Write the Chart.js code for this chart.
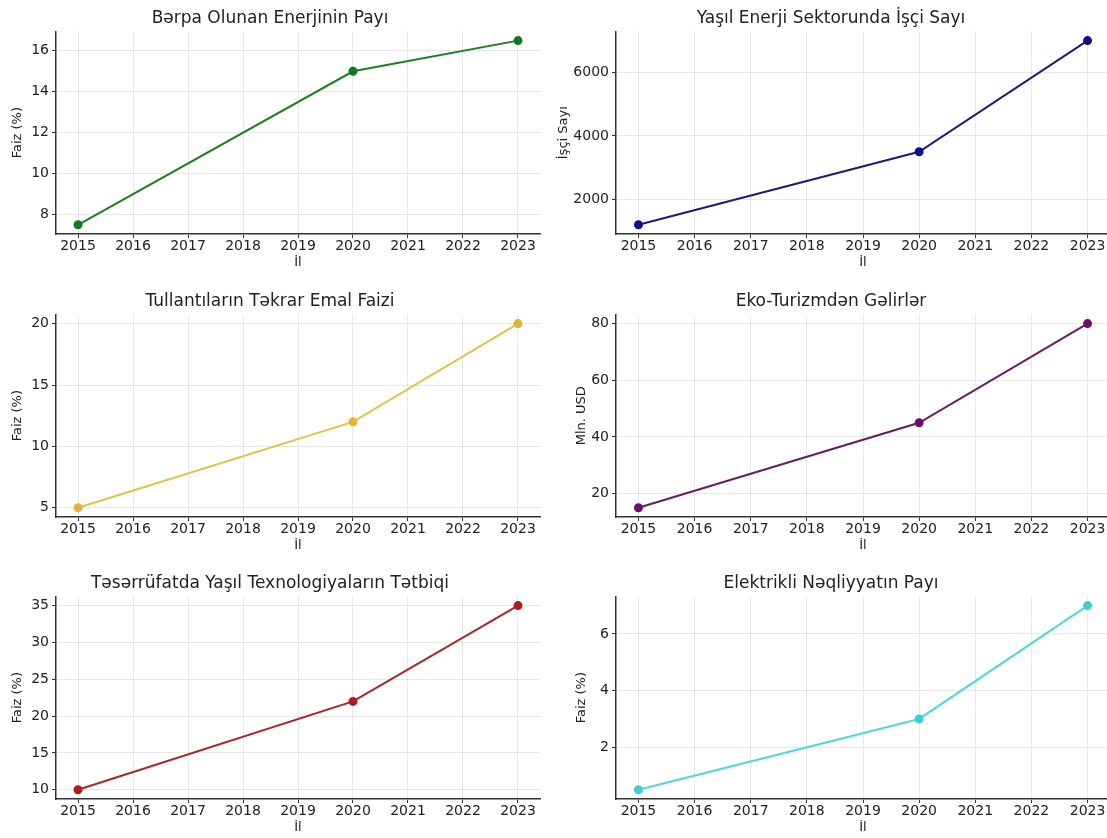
<!DOCTYPE html>
<html>
<head>
<meta charset="utf-8">
<script src="https://cdn.jsdelivr.net/npm/chart.js@4.4.0/dist/chart.umd.min.js"></script>
<style>
    html, body { margin: 0; padding: 0; background: #fff; overflow: hidden; width: 1107px; height: 838px; }
    canvas { position: absolute; }
</style>
</head>
<body>
<canvas id="c1" width="550" height="280" style="left:0;top:0"></canvas>
<canvas id="c2" width="568" height="280" style="left:552px;top:0"></canvas>
<canvas id="c3" width="550" height="280" style="left:0;top:283px"></canvas>
<canvas id="c4" width="568" height="280" style="left:552px;top:283px"></canvas>
<canvas id="c5" width="550" height="280" style="left:0;top:565px"></canvas>
<canvas id="c6" width="568" height="280" style="left:552px;top:565px"></canvas>
<script>
// -------------------------------
// DATA
// -------------------------------
const years = [2015, 2020, 2023];
const yearTicks = [2015, 2016, 2017, 2018, 2019, 2020, 2021, 2022, 2023];

const renewableShare = [7.5, 15, 16.5];
const greenJobs = [1200, 3500, 7000];
const recyclingRate = [5, 12, 20];
const ecoTourism = [15, 45, 80];
const greenTechFarming = [10, 22, 35];
const electricTransport = [0.5, 3, 7];

const renewableTicks = [8, 10, 12, 14, 16];
const jobsTicks = [2000, 4000, 6000];
const recyclingTicks = [5, 10, 15, 20];
const tourismTicks = [20, 40, 60, 80];
const farmingTicks = [10, 15, 20, 25, 30, 35];
const transportTicks = [2, 4, 6];

// -------------------------------
// PANEL SETUP
// -------------------------------
const panels = [
    { id: "c1", title: "Bərpa Olunan Enerjinin Payı", yLabel: "Faiz (%)", values: renewableShare, yTicks: renewableTicks,
      color: "#1d801d", marker: "#0f7a1f", min: 7.05, max: 16.95, axisW: 56, labelPad: 10 },
    { id: "c2", title: "Yaşıl Enerji Sektorunda İşçi Sayı", yLabel: "İşçi Sayı", values: greenJobs, yTicks: jobsTicks,
      color: "#1c1c7a", marker: "#10108c", min: 910, max: 7290, axisW: 64, labelPad: 4 },
    { id: "c3", title: "Tullantıların Təkrar Emal Faizi", yLabel: "Faiz (%)", values: recyclingRate, yTicks: recyclingTicks,
      color: "#e3c24a", marker: "#e5b338", min: 4.25, max: 20.75, axisW: 56, labelPad: 10 },
    { id: "c4", title: "Eko-Turizmdən Gəlirlər", yLabel: "Mln. USD", values: ecoTourism, yTicks: tourismTicks,
      color: "#6a1c62", marker: "#6b0f6b", min: 11.75, max: 83.25, axisW: 64, labelPad: 22 },
    { id: "c5", title: "Təsərrüfatda Yaşıl Texnologiyaların Tətbiqi", yLabel: "Faiz (%)", values: greenTechFarming, yTicks: farmingTicks,
      color: "#a82626", marker: "#b01c1c", min: 8.75, max: 36.25, axisW: 56, labelPad: 10 },
    { id: "c6", title: "Elektrikli Nəqliyyatın Payı", yLabel: "Faiz (%)", values: electricTransport, yTicks: transportTicks,
      color: "#4fd8dc", marker: "#3ccfd2", min: 0.175, max: 7.325, axisW: 64, labelPad: 22 }
];

const FONT = "'DejaVu Sans', sans-serif";

panels.forEach(p => {
    const ctx = document.getElementById(p.id).getContext("2d");

    new Chart(ctx, {
        type: "line",
        data: {
            datasets: [{
                data: years.map((y, i) => ({ x: y, y: p.values[i] })),
                borderColor: p.color,
                backgroundColor: p.marker,
                pointBackgroundColor: p.marker,
                pointBorderColor: p.marker,
                pointRadius: 3.5,
                borderWidth: 2,
                tension: 0,
                fill: false
            }]
        },
        options: {
            responsive: false,
            animation: false,
            layout: { padding: { left: 0, right: 10, top: 0, bottom: 10 } },
            plugins: {
                legend: { display: false },
                tooltip: { enabled: false },
                title: {
                    display: true,
                    text: p.title,
                    color: "#222",
                    font: { family: FONT, size: 17, weight: "normal" },
                    padding: { top: 8, bottom: 3 }
                }
            },
            scales: {
                x: {
                    type: "linear",
                    min: 2014.6,
                    max: 2023.4,
                    afterBuildTicks: s => { s.ticks = yearTicks.map(v => ({ value: v })); },
                    afterFit: s => { s.height = 36; },
                    ticks: {
                        color: "#222",
                        font: { family: FONT, size: 14 },
                        padding: 0,
                        maxRotation: 0,
                        callback: v => String(v)
                    },
                    grid: {
                        color: "rgba(0,0,0,0.09)",
                        tickColor: "#333",
                        tickLength: 4
                    },
                    border: { display: true, color: "#333", width: 1.5 },
                    title: {
                        display: true,
                        text: "İl",
                        color: "#222",
                        font: { family: FONT, size: 13 },
                        padding: { top: 0, bottom: 0 }
                    }
                },
                y: {
                    min: p.min,
                    max: p.max,
                    afterBuildTicks: s => { s.ticks = p.yTicks.map(v => ({ value: v })); },
                    afterFit: s => { s.width = p.axisW; },
                    ticks: {
                        color: "#222",
                        font: { family: FONT, size: 14 },
                        padding: 3,
                        callback: v => String(v)
                    },
                    grid: {
                        color: "rgba(0,0,0,0.09)",
                        tickColor: "#333",
                        tickLength: 4
                    },
                    border: { display: true, color: "#333", width: 1.5 },
                    title: {
                        display: true,
                        text: p.yLabel,
                        color: "#222",
                        font: { family: FONT, size: 13 },
                        padding: { top: p.labelPad, bottom: 0 }
                    }
                }
            }
        }
    });
});
</script>
</body>
</html>
